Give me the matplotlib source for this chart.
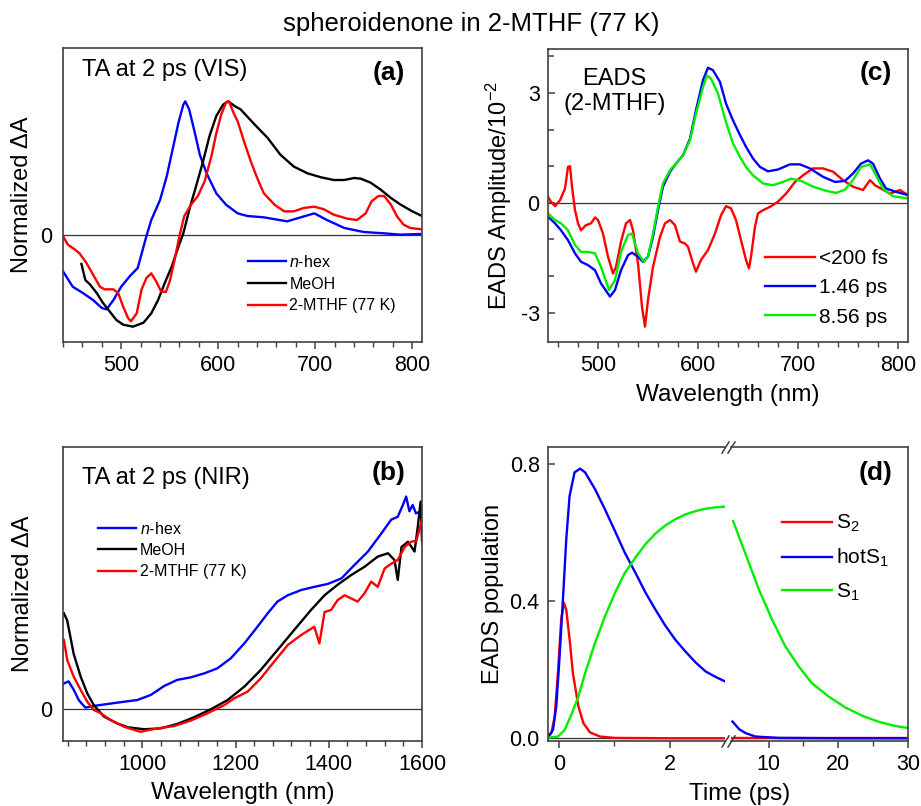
import numpy as np
import matplotlib
matplotlib.use("Agg")
import matplotlib.pyplot as plt
from matplotlib.ticker import MultipleLocator, FixedLocator

plt.rcParams['font.family'] = ['Liberation Sans', 'DejaVu Sans']
plt.rcParams['mathtext.fontset'] = 'custom'
plt.rcParams['mathtext.rm'] = 'Liberation Sans'
plt.rcParams['mathtext.it'] = 'Liberation Sans:italic'
plt.rcParams['mathtext.bf'] = 'Liberation Sans:bold'
plt.rcParams['axes.unicode_minus'] = False

# ---- (a) TA at 2 ps, visible ----
vis_hex_x = [440, 450, 461, 471, 480, 485, 492, 500, 509, 517, 526, 531, 540, 547, 553, 559,
             564, 566, 570, 576, 581, 588, 598, 608, 620, 630, 647, 671, 685, 699, 712, 730,
             750, 771, 788, 808]
vis_hex_y = [-0.275, -0.39, -0.44, -0.49, -0.55, -0.56, -0.49, -0.39, -0.31, -0.25, -0.01, 0.11,
             0.26, 0.44, 0.64, 0.84, 0.975, 1.0, 0.94, 0.76, 0.60, 0.46, 0.31, 0.225, 0.16, 0.14,
             0.13, 0.10, 0.13, 0.16, 0.11, 0.05, 0.02, 0.01, 0.0, 0.005]
vis_meoh_x = [459, 463, 468, 475, 481, 488, 495, 502, 512, 523, 531, 538, 545, 552, 559, 564,
              571, 577, 584, 591, 598, 605, 610, 618, 623, 637, 651, 664, 678, 692, 706, 719,
              730, 740, 747, 757, 767, 778, 788, 800, 810]
vis_meoh_y = [-0.22, -0.34, -0.375, -0.44, -0.51, -0.575, -0.64, -0.675, -0.69, -0.66, -0.59,
              -0.49, -0.36, -0.24, -0.09, 0.01, 0.21, 0.36, 0.54, 0.74, 0.89, 0.975, 1.0, 0.96,
              0.94, 0.83, 0.725, 0.60, 0.51, 0.46, 0.43, 0.41, 0.41, 0.425, 0.42, 0.39, 0.34,
              0.275, 0.225, 0.175, 0.14]
vis_mthf_x = [440, 445, 452, 457, 464, 471, 478, 483, 492, 497, 502, 507, 510, 516, 521, 526,
              531, 536, 541, 546, 550, 555, 560, 565, 572, 579, 586, 593, 598, 603, 608, 611,
              616, 620, 627, 634, 641, 647, 658, 668, 678, 688, 699, 709, 719, 733, 743, 752,
              758, 765, 771, 778, 784, 791, 798, 810]
vis_mthf_y = [-0.01, -0.075, -0.11, -0.14, -0.21, -0.30, -0.39, -0.41, -0.41, -0.44, -0.54,
              -0.625, -0.65, -0.59, -0.41, -0.325, -0.29, -0.35, -0.425, -0.43, -0.35, -0.19,
              -0.01, 0.14, 0.225, 0.29, 0.40, 0.59, 0.76, 0.90, 0.99, 1.0, 0.91, 0.85, 0.69,
              0.54, 0.41, 0.31, 0.225, 0.175, 0.175, 0.20, 0.21, 0.19, 0.15, 0.12, 0.11, 0.16,
              0.25, 0.29, 0.29, 0.225, 0.14, 0.075, 0.05, 0.04]

# ---- (b) TA at 2 ps, NIR ----
nir_hex_x = [832, 842, 853, 864, 878, 896, 925, 961, 989, 1018, 1047, 1075, 1104, 1133, 1161,
             1190, 1219, 1247, 1269, 1290, 1312, 1341, 1369, 1398, 1427, 1455, 1484, 1513,
             1534, 1548, 1559, 1566, 1573, 1580, 1587, 1598]
nir_hex_y = [0.12, 0.13, 0.09, 0.04, 0.005, 0.013, 0.022, 0.033, 0.041, 0.065, 0.108, 0.137,
             0.149, 0.168, 0.192, 0.24, 0.311, 0.39, 0.454, 0.51, 0.54, 0.565, 0.58, 0.594,
             0.62, 0.684, 0.748, 0.835, 0.90, 0.914, 0.97, 1.01, 0.94, 0.97, 0.93, 0.94]
nir_meoh_x = [832, 839, 853, 868, 882, 896, 918, 946, 970, 1004, 1039, 1075, 1111, 1147, 1183,
              1219, 1254, 1290, 1326, 1362, 1391, 1419, 1448, 1477, 1505, 1527, 1541, 1548,
              1556, 1570, 1584, 1591, 1597, 1600]
nir_meoh_y = [0.454, 0.42, 0.26, 0.152, 0.073, 0.017, -0.038, -0.07, -0.089, -0.098, -0.094,
              -0.073, -0.041, -0.003, 0.041, 0.105, 0.184, 0.279, 0.375, 0.47, 0.54, 0.59,
              0.636, 0.676, 0.724, 0.74, 0.708, 0.613, 0.77, 0.795, 0.748, 0.867, 0.986, 0.80]
nir_mthf_x = [832, 839, 853, 868, 882, 896, 911, 932, 961, 996, 1032, 1068, 1104, 1140, 1176,
              1197, 1226, 1254, 1283, 1312, 1341, 1369, 1380, 1391, 1405, 1419, 1434, 1448,
              1462, 1477, 1491, 1505, 1520, 1534, 1548, 1563, 1577, 1588, 1600]
nir_mthf_y = [0.327, 0.232, 0.152, 0.089, 0.033, -0.006, -0.022, -0.054, -0.086, -0.11,
              -0.094, -0.083, -0.057, -0.022, 0.017, 0.049, 0.081, 0.144, 0.224, 0.303, 0.351,
              0.39, 0.311, 0.46, 0.47, 0.517, 0.54, 0.525, 0.51, 0.55, 0.605, 0.58, 0.668,
              0.69, 0.708, 0.77, 0.795, 0.80, 0.90]

# ---- (c) EADS in 2-MTHF (units of 1e-2) ----
eads_fast_x = [450, 453, 457, 462, 467, 470, 472, 474, 477, 480, 483, 488, 493, 497, 500, 505,
               510, 515, 518, 523, 528, 532, 535, 540, 544, 547, 550, 555, 562, 567, 572, 577,
               582, 587, 590, 595, 598, 603, 610, 617, 623, 628, 633, 638, 643, 648, 651, 653,
               657, 660, 665, 672, 680, 688, 697, 705, 715, 725, 735, 745, 755, 765, 772, 777,
               783, 792, 802, 810]
eads_fast_y = [0.16, 0.03, -0.09, 0.07, 0.39, 0.98, 1.0, 0.44, -0.2, -0.56, -0.75, -0.61,
               -0.56, -0.4, -0.47, -0.84, -1.47, -1.93, -1.75, -1.06, -0.56, -0.47, -0.75,
               -1.65, -2.84, -3.38, -2.65, -1.75, -0.93, -0.56, -0.47, -0.61, -1.06, -1.11,
               -1.2, -1.65, -1.88, -1.56, -1.29, -0.84, -0.34, -0.09, -0.15, -0.47, -1.02,
               -1.56, -1.79, -1.47, -0.65, -0.29, -0.2, -0.11, 0.03, 0.25, 0.57, 0.75, 0.94,
               0.94, 0.85, 0.62, 0.44, 0.35, 0.62, 0.48, 0.39, 0.25, 0.35, 0.21]
eads_146_x = [450, 457, 463, 470, 477, 483, 490, 497, 503, 512, 517, 523, 530, 534, 540, 545,
              550, 555, 560, 565, 572, 578, 585, 592, 598, 605, 610, 615, 622, 628, 635, 642,
              648, 655, 662, 670, 680, 692, 702, 712, 725, 737, 747, 755, 763, 770, 775, 782,
              788, 798, 810]
eads_146_y = [-0.38, -0.56, -0.75, -1.02, -1.38, -1.61, -1.70, -1.84, -2.2, -2.56, -2.38,
              -1.84, -1.43, -1.36, -1.47, -1.61, -1.47, -0.93, -0.2, 0.44, 0.85, 1.07, 1.3,
              1.75, 2.53, 3.35, 3.69, 3.62, 3.3, 2.71, 2.25, 1.85, 1.53, 1.21, 0.98, 0.86,
              0.91, 1.05, 1.05, 0.94, 0.71, 0.57, 0.6, 0.8, 1.07, 1.16, 1.07, 0.66, 0.39, 0.3,
              0.21]
eads_856_x = [450, 457, 463, 470, 477, 483, 490, 497, 503, 511, 517, 523, 530, 534, 540, 546,
              550, 555, 560, 565, 572, 578, 585, 592, 598, 605, 609, 613, 620, 628, 635, 642,
              648, 655, 665, 675, 685, 693, 703, 715, 728, 738, 747, 755, 763, 772, 778, 785,
              795, 810]
eads_856_y = [-0.29, -0.47, -0.56, -0.75, -1.15, -1.34, -1.34, -1.38, -1.75, -2.38, -2.11,
              -1.34, -0.88, -0.84, -1.38, -1.61, -1.47, -0.84, -0.11, 0.53, 0.89, 1.07, 1.3,
              1.71, 2.44, 3.16, 3.48, 3.39, 2.98, 2.2, 1.62, 1.25, 0.98, 0.75, 0.53, 0.48,
              0.57, 0.66, 0.6, 0.44, 0.33, 0.27, 0.36, 0.62, 0.98, 1.05, 0.75, 0.39, 0.18, 0.12]

# ---- (d) EADS populations, early (<3 ps) and late (>4.6 ps) parts ----
s2_t1 = [-0.2, -0.14, -0.08, -0.02, 0.04, 0.09, 0.13, 0.19, 0.25, 0.35, 0.44, 0.56, 0.74,
         1.01, 2.0, 3.0]
s2_p1 = [0.005, 0.015, 0.063, 0.19, 0.35, 0.395, 0.375, 0.29, 0.19, 0.093, 0.044, 0.017,
         0.005, 0.001, 0.0, 0.0]
s2_t2 = [4.8, 30]
s2_p2 = [0.0, 0.0]
hot_t1 = [-0.2, -0.11, -0.05, 0.01, 0.07, 0.13, 0.19, 0.28, 0.38, 0.47, 0.65, 0.83, 1.01,
          1.19, 1.38, 1.56, 1.74, 1.92, 2.10, 2.28, 2.47, 2.65, 2.83, 3.0]
hot_p1 = [0.003, 0.024, 0.093, 0.24, 0.405, 0.58, 0.707, 0.776, 0.787, 0.776, 0.727, 0.668,
          0.605, 0.541, 0.483, 0.426, 0.376, 0.329, 0.288, 0.254, 0.221, 0.195, 0.179, 0.166]
hot_t2 = [4.8, 5.8, 6.7, 8.1, 11.5, 20, 30]
hot_p2 = [0.049, 0.026, 0.015, 0.005, 0.001, 0.0, 0.0]
s1_t1 = [-0.2, -0.02, 0.10, 0.22, 0.35, 0.47, 0.65, 0.83, 1.01, 1.19, 1.38, 1.56, 1.74, 1.92,
         2.10, 2.28, 2.47, 2.65, 2.83, 3.0]
s1_p1 = [0.002, 0.005, 0.024, 0.068, 0.122, 0.19, 0.278, 0.356, 0.424, 0.483, 0.527, 0.566,
         0.597, 0.621, 0.639, 0.653, 0.663, 0.67, 0.674, 0.676]
s1_t2 = [4.9, 6.7, 8.6, 10.5, 12.4, 14.3, 16.2, 18.6, 21.0, 23.4, 25.8, 28.1, 30]
s1_p2 = [0.634, 0.537, 0.434, 0.346, 0.268, 0.21, 0.161, 0.122, 0.09, 0.066, 0.048, 0.036,
         0.03]

BLUE, BLACK, RED, GREEN = '#0000ff', '#000000', '#ff0000', '#00ee00'
SPINE = '#404040'
LW = 1.7
TICK_FS = 15.5
LABEL_FS = 17

fig = plt.figure(figsize=(9.21, 8.06), dpi=100)
W, H = 921.0, 806.0


def box(x0, y0, x1, y1):
    return [x0 / W, 1 - y1 / H, (x1 - x0) / W, (y1 - y0) / H]


def style(ax):
    for s in ax.spines.values():
        s.set_color(SPINE)
        s.set_linewidth(1.2)
    ax.tick_params(axis='x', which='both', direction='out', colors=SPINE,
                   labelcolor='black', labelsize=TICK_FS, pad=4.5)
    ax.tick_params(axis='x', which='major', length=5, width=1.1)
    ax.tick_params(axis='x', which='minor', length=3.5, width=1.0)
    ax.tick_params(axis='y', which='both', direction='in', colors=SPINE,
                   labelcolor='black', labelsize=TICK_FS, pad=6, length=5, width=1.1)


# (a)
ax_a = fig.add_axes(box(63, 48, 422, 342))
ax_a.axhline(0, color='#333333', lw=0.9)
ax_a.plot(vis_hex_x, vis_hex_y, color=BLUE, lw=LW, label='$\\mathit{n}$-hex')
ax_a.plot(vis_meoh_x, vis_meoh_y, color=BLACK, lw=LW, label='MeOH')
ax_a.plot(vis_mthf_x, vis_mthf_y, color=RED, lw=LW, label='2-MTHF (77 K)')
ax_a.set_xlim(440, 810)
ax_a.set_ylim(-0.805, 1.40)
ax_a.xaxis.set_major_locator(MultipleLocator(100))
ax_a.xaxis.set_minor_locator(MultipleLocator(20))
ax_a.set_yticks([0])
style(ax_a)
ax_a.tick_params(axis='y', length=0, pad=8)
ax_a.set_ylabel('Normalized ΔA', fontsize=LABEL_FS)
ax_a.yaxis.set_label_coords(-0.084, 0.5)
ax_a.text(0.053, 0.925, 'TA at 2 ps (VIS)', transform=ax_a.transAxes, fontsize=17,
          va='center', ha='left')
ax_a.text(0.953, 0.915, '(a)', transform=ax_a.transAxes, fontsize=19, fontweight='bold',
          va='center', ha='right')
ax_a.legend(loc='upper left', bbox_to_anchor=(0.515, 0.3), frameon=False, fontsize=11.5,
            handlelength=2.4, handletextpad=0.2, labelspacing=0.42, borderpad=0,
            borderaxespad=0)

# (b)
ax_b = fig.add_axes(box(63, 447, 422, 741))
ax_b.axhline(0, color='#333333', lw=0.9)
ax_b.plot(nir_hex_x, nir_hex_y, color=BLUE, lw=LW, label='$\\mathit{n}$-hex')
ax_b.plot(nir_meoh_x, nir_meoh_y, color=BLACK, lw=LW, label='MeOH')
ax_b.plot(nir_mthf_x, nir_mthf_y, color=RED, lw=LW, label='2-MTHF (77 K)')
ax_b.set_xlim(830, 1600)
ax_b.set_ylim(-0.154, 1.246)
ax_b.xaxis.set_major_locator(MultipleLocator(200))
ax_b.xaxis.set_minor_locator(MultipleLocator(40))
ax_b.set_yticks([0])
style(ax_b)
ax_b.tick_params(axis='y', length=0, pad=8)
ax_b.set_ylabel('Normalized ΔA', fontsize=LABEL_FS)
ax_b.yaxis.set_label_coords(-0.082, 0.5)
ax_b.set_xlabel('Wavelength (nm)', fontsize=17.5)
ax_b.xaxis.set_label_coords(0.5, -0.14)
ax_b.text(0.053, 0.895, 'TA at 2 ps (NIR)', transform=ax_b.transAxes, fontsize=17,
          va='center', ha='left')
ax_b.text(0.953, 0.912, '(b)', transform=ax_b.transAxes, fontsize=19, fontweight='bold',
          va='center', ha='right')
ax_b.legend(loc='upper left', bbox_to_anchor=(0.0975, 0.75), frameon=False, fontsize=11.5,
            handlelength=2.4, handletextpad=0.2, labelspacing=0.4, borderpad=0,
            borderaxespad=0)

# (c)
ax_c = fig.add_axes(box(548, 49, 908, 342))
ax_c.axhline(0, color='#333333', lw=0.9)
ax_c.plot(eads_fast_x, eads_fast_y, color=RED, lw=LW, label='<200 fs')
ax_c.plot(eads_146_x, eads_146_y, color=BLUE, lw=LW, label='1.46 ps')
ax_c.plot(eads_856_x, eads_856_y, color=GREEN, lw=LW, label='8.56 ps')
ax_c.set_xlim(450, 810)
ax_c.set_ylim(-3.8, 4.2)
ax_c.xaxis.set_major_locator(MultipleLocator(100))
ax_c.xaxis.set_minor_locator(MultipleLocator(20))
ax_c.set_yticks([-3, 0, 3])
ax_c.yaxis.set_minor_locator(MultipleLocator(1))
style(ax_c)
ax_c.tick_params(axis='y', which='minor', length=4)
ax_c.set_ylabel('EADS Amplitude/10$^{-2}$', fontsize=LABEL_FS)
ax_c.yaxis.set_label_coords(-0.095, 0.5)
ax_c.set_xlabel('Wavelength (nm)', fontsize=17.5)
ax_c.xaxis.set_label_coords(0.5, -0.142)
ax_c.text(0.185, 0.855, 'EADS\n(2-MTHF)', transform=ax_c.transAxes, fontsize=17,
          va='center', ha='center', multialignment='center')
ax_c.text(0.956, 0.918, '(c)', transform=ax_c.transAxes, fontsize=19, fontweight='bold',
          va='center', ha='right')
ax_c.legend(loc='upper left', bbox_to_anchor=(0.603, 0.318), frameon=False, fontsize=15,
            handlelength=2.4, handletextpad=0.2, labelspacing=0.5, borderpad=0,
            borderaxespad=0)

# (d) broken time axis
ax_d1 = fig.add_axes(box(548, 447, 725, 741))
ax_d2 = fig.add_axes(box(731, 447, 908, 741), sharey=ax_d1)
for ax in (ax_d1, ax_d2):
    ax.axhline(0, color='#333333', lw=0.9)
l1, = ax_d1.plot(s2_t1, s2_p1, color=RED, lw=LW, label='S$_2$')
l2, = ax_d1.plot(hot_t1, hot_p1, color=BLUE, lw=LW, label='hotS$_1$')
l3, = ax_d1.plot(s1_t1, s1_p1, color=GREEN, lw=LW, label='S$_1$')
ax_d2.plot(s2_t2, s2_p2, color=RED, lw=LW)
ax_d2.plot(hot_t2, hot_p2, color=BLUE, lw=LW)
ax_d2.plot(s1_t2, s1_p2, color=GREEN, lw=LW)
ax_d1.set_xlim(-0.2, 3.0)
ax_d2.set_xlim(4.6, 30)
ax_d1.set_ylim(-0.008, 0.85)
ax_d1.xaxis.set_major_locator(FixedLocator([0, 2]))
ax_d1.xaxis.set_minor_locator(FixedLocator([1]))
ax_d2.xaxis.set_major_locator(FixedLocator([10, 20, 30]))
ax_d2.xaxis.set_minor_locator(FixedLocator([15, 25]))
ax_d1.set_yticks([0.0, 0.4, 0.8])
ax_d1.set_yticklabels(['0.0', '0.4', '0.8'])
style(ax_d1)
style(ax_d2)
ax_d1.spines['right'].set_visible(False)
ax_d2.spines['left'].set_visible(False)
ax_d2.tick_params(axis='y', which='both', left=False, labelleft=False)
ax_d1.set_ylabel('EADS population', fontsize=LABEL_FS)
ax_d1.yaxis.set_label_coords(-0.248, 0.5)
fig.text(740 / W, 1 - 783 / H, 'Time (ps)', fontsize=17.5, ha='center', va='top')
ax_d2.text(0.915, 0.912, '(d)', transform=ax_d2.transAxes, fontsize=19, fontweight='bold',
           va='center', ha='right')
ax_d2.legend(handles=[l1, l2, l3], loc='upper left', bbox_to_anchor=(0.288, 0.775),
             frameon=False, fontsize=15, handlelength=2.4, handletextpad=0.2,
             labelspacing=0.6, borderpad=0, borderaxespad=0)

# break marks
brk = dict(marker=[(-1, -1.6), (1, 1.6)], markersize=9, linestyle='none', color=SPINE,
           mec=SPINE, mew=1.1, clip_on=False)
ax_d1.plot([1, 1], [0, 1], transform=ax_d1.transAxes, **brk)
ax_d2.plot([0, 0], [0, 1], transform=ax_d2.transAxes, **brk)

fig.text(471 / W, 1 - 24 / H, 'spheroidenone in 2-MTHF (77 K)', fontsize=18.5,
         ha='center', va='center')

fig.savefig('out.png', dpi=100)
